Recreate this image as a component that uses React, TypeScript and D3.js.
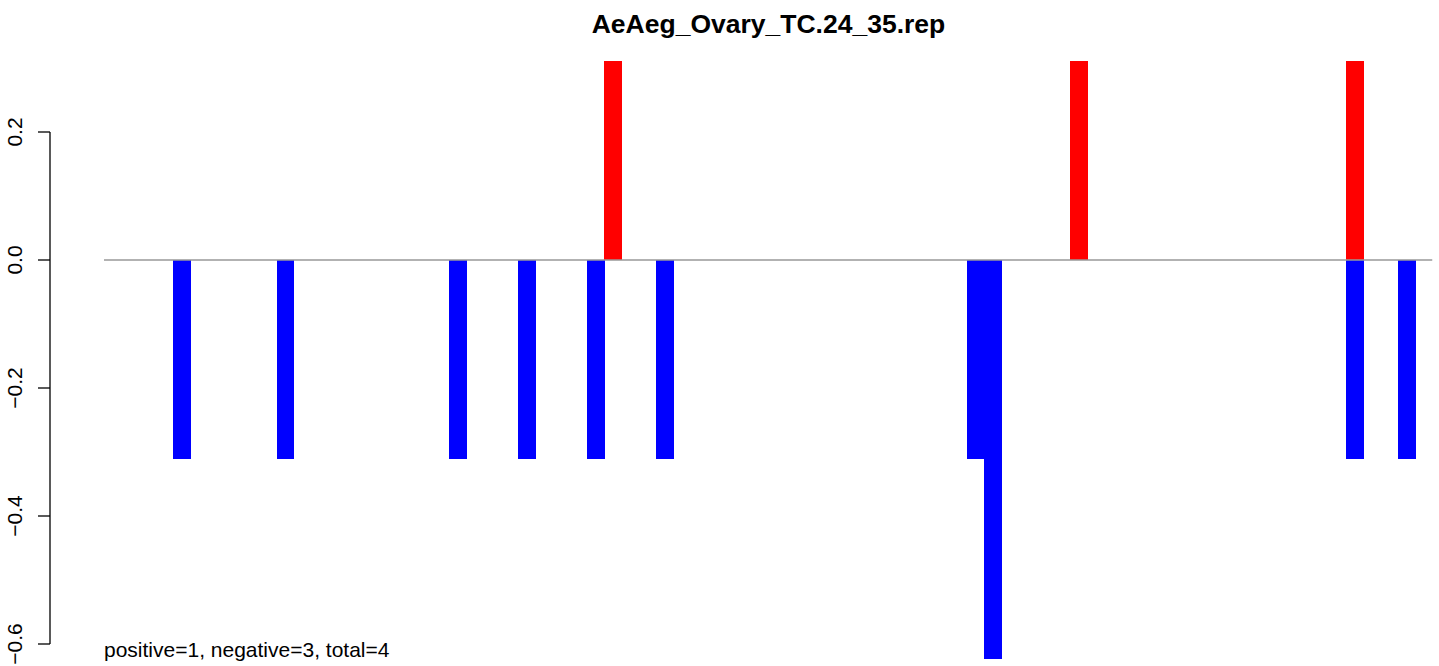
import React from "react";
import * as d3 from "d3";

const title = "AeAeg_Ovary_TC.24_35.rep";
const footer = "positive=1, negative=3, total=4";
const yTicks = [0.2, 0.0, -0.2, -0.4, -0.6];
const yTickLabels = ["0.2", "0.0", "\u22120.2", "\u22120.4", "\u22120.6"];

// position index of each bar along the sequence
const positivePos = [29, 56, 72];
const positiveVal = [0.3115, 0.3115, 0.3115];
const negativePos = [4, 10, 20, 24, 28, 32, 50, 51, 72, 75];
const negativeVal = [-0.3115, -0.3115, -0.3115, -0.3115, -0.3115, -0.3115, -0.3115, -0.623, -0.3115, -0.3115];
const xDomain = [0, 77];

export default function App() {
  const W = 1439, H = 666;
  const x = d3.scaleLinear().domain(xDomain).range([104, 1432.25]);
  const y = d3.scaleLinear().domain([0, 0.2]).range([260, 132]);
  const bw = x(1) - x(0);
  const font = "'Liberation Sans', Arial, Helvetica, sans-serif";
  return (
    <svg width={W} height={H} style={{ position: "absolute", left: 0, top: 0, background: "#fff" }}>
      <text x={768.5} y={33} textAnchor="middle" fontFamily={font} fontWeight="bold" fontSize={26.5}>{title}</text>
      {/* y axis */}
      <line x1={50} x2={50} y1={y(0.2)} y2={y(-0.6)} stroke="#000" strokeWidth={1.3} />
      {yTicks.map((t, i) => (
        <g key={i}>
          <line x1={38} x2={50} y1={y(t)} y2={y(t)} stroke="#000" strokeWidth={1.3} />
          <text transform={`translate(${22},${y(t)}) rotate(-90)`} textAnchor="middle" fontFamily={font} fontSize={21}>{yTickLabels[i]}</text>
        </g>
      ))}
      {/* bars */}
      <g shapeRendering="crispEdges">
        {negativePos.map((p, i) => (
          <rect key={"n" + i} x={x(p)} width={bw + 0.5} y={y(0)} height={y(negativeVal[i]) - y(0)} fill="#0000ff" />
        ))}
        {positivePos.map((p, i) => (
          <rect key={"p" + i} x={x(p)} width={bw + 0.5} y={y(positiveVal[i])} height={y(0) - y(positiveVal[i])} fill="#ff0000" />
        ))}
      </g>
      <line x1={x(xDomain[0])} x2={x(xDomain[1])} y1={y(0)} y2={y(0)} stroke="#999" strokeWidth={1.5} />
      <text x={104} y={657} fontFamily={font} fontSize={21}>{footer}</text>
    </svg>
  );
}
